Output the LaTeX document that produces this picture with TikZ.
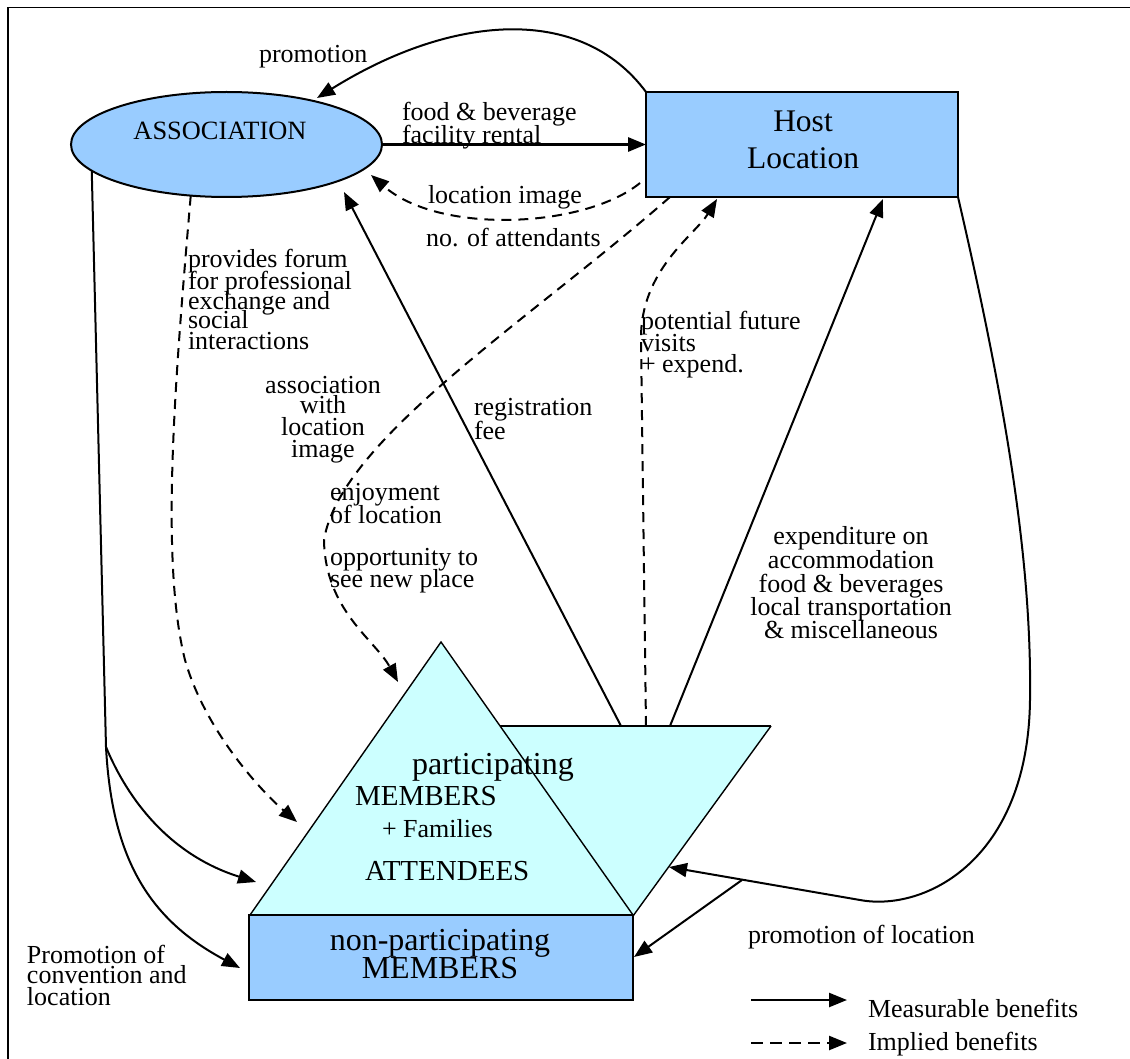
\documentclass[tikz,border=0pt]{standalone}
\usepackage{fontspec}
\setmainfont{Liberation Serif}
\usetikzlibrary{arrows.meta,shapes.geometric,calc}
\definecolor{boxblue}{HTML}{99CCFF}
\definecolor{paleaqua}{HTML}{CCFFFF}
\newcommand{\txtsize}[1]{\fontsize{#1}{#1}\selectfont}
\begin{document}
\begin{tikzpicture}[x=1pt,y=-1pt,
  every node/.style={inner sep=0pt, outer sep=0pt},
  lab/.style={font=\txtsize{26}, anchor=base west},
  labc/.style={font=\txtsize{26}, anchor=base},
  tip/.style={-{Triangle[length=18pt,width=14pt]}},
  measurable/.style={draw, line width=2pt, tip},
  implied/.style={measurable, dash pattern=on 10pt off 7pt},
  shapeline/.style={line width=1.4pt},
  bluebox/.style={draw, line width=2.2pt, fill=boxblue},
]
\useasboundingbox (0,0) rectangle (1130,1059);
% outer frame
\draw[line width=1.6pt] (8,7.5) rectangle (1150,1080);

% main actors
\node[ellipse, draw, line width=2pt, fill=boxblue, minimum width=311pt, minimum height=105pt] (assoc) at (226.5,144.5) {};
\node[bluebox, minimum width=312pt, minimum height=105pt] (host) at (802,144.5) {};

% attendees: inverted triangle behind the upright one
\coordinate (inL) at (499,726);
\coordinate (inR) at (771,726);
\coordinate (inB) at (633,916);
\fill[paleaqua] (inL) -- (inR) -- (inB) -- cycle;
\draw[line width=2.2pt] (inL) -- (inR);
\draw[shapeline] (inR) -- (inB);
\coordinate (apex) at (441,642);
\coordinate (baseL) at (250,915);
\coordinate (baseR) at (633,915);
\filldraw[fill=paleaqua, shapeline] (apex) -- (baseR) -- (baseL) -- cycle;

% non-participating members
\node[bluebox, minimum width=384pt, minimum height=85pt] (nonpart) at (441,957.5) {};
\draw[line width=2.8pt] (nonpart.north west) -- (nonpart.north east);

% connector end points
\coordinate (topReg) at (621,726);
\coordinate (topPot) at (646,726);
\coordinate (topExp) at (670,726);
\coordinate (regTip) at (344,192);
\coordinate (promTip) at (317,98);
\coordinate (imgTip) at (371,175);
\coordinate (potTip) at (717,199);
\coordinate (expTip) at (883,199);
\coordinate (attTip) at (398,682);
\coordinate (forumTip) at (297,822);
\coordinate (triTip) at (256,882);
\coordinate (npTip) at (240,968);
\coordinate (invTip) at (669,867);
\coordinate (npRightTip) at (634,957);
\coordinate (fork) at (106,747);
\coordinate (locFork) at (742,880);

% flows between host and association
\draw[measurable] (host.north west) .. controls (580,3) and (450,15) .. (promTip);
\draw[measurable, line width=3pt] (assoc.east) -- (host.west);
\draw[implied] ($(host.south west)+(-6,-14)$) .. controls (585,228) and (440,235) .. (imgTip);

% flows from the host location
\draw[implied] ($(host.south west)+(24,0)$) .. controls (530,320) and (340,440) .. (324,540)
   .. controls (325,610) and (375,640) .. (attTip);
\draw[measurable] (host.south east) .. controls (1005,400) and (1032,560) .. (1030,700)
   .. controls (1028,860) and (925,912) .. (860,900) -- (invTip);
\draw[measurable] (locFork) -- (npRightTip);

% flows from the attendees
\draw[implied] (topPot) -- (641,340) .. controls (640,270) and (695,235) .. (potTip);
\draw[measurable] (topReg) -- (regTip);
\draw[measurable] (topExp) -- (expTip);

% flows from the association
\draw[measurable] (assoc.191) -- (fork) .. controls (112,860) and (150,920) .. (npTip);
\draw[measurable] (fork) .. controls (128,800) and (170,855) .. (triTip);
\draw[implied] (assoc.235) .. controls (175,380) and (160,560) .. (185,660)
   .. controls (205,730) and (260,790) .. (forumTip);

% legend
\coordinate (lgA1) at (751,1000);
\coordinate (lgB1) at (847,1000);
\coordinate (lgA2) at (751,1043);
\coordinate (lgB2) at (847,1043);
\draw[measurable, line width=2.4pt] (lgA1) -- (lgB1);
\draw[implied, line width=2.4pt, dash pattern=on 12pt off 7pt] (lgA2) -- (lgB2);
\node[lab] (lgt1) at (868,1017) {Measurable benefits};
\node[lab] (lgt2) at (868,1050) {Implied benefits};

% labels inside the shapes
\node[labc, font=\txtsize{26.4}] (assoctxt) at (220,140) {ASSOCIATION};
\node[labc, font=\txtsize{31.5}] (hosttxt1) at (803,132) {Host};
\node[labc, font=\txtsize{31.5}] (hosttxt2) at (803,169) {Location};
\node[lab, font=\txtsize{32}] (att1) at (412,774) {participating};
\node[lab, font=\txtsize{29}] (att2) at (355,805) {MEMBERS};
\node[lab, font=\txtsize{26}] (att3) at (382,837) {+ Families};
\node[lab, font=\txtsize{29}] (att4) at (365,880) {ATTENDEES};
\node[labc, font=\txtsize{32}] (np1) at (440,950) {non-participating};
\node[labc, font=\txtsize{32}] (np2) at (440,978) {MEMBERS};

% connector labels
\node[lab] (t1) at (259,63) {promotion};
\node[lab] (t2) at (402,121) {food \& beverage};
\node[lab] (t3) at (402,144) {facility rental};
\node[lab] (t4) at (428,204) {location image};
\node[lab] (t5) at (426,247) {no. of attendants};
\node[lab] (t6a) at (188,268) {provides forum};
\node[lab] (t6b) at (188,290) {for professional};
\node[lab] (t6c) at (188,310) {exchange and};
\node[lab] (t6d) at (188,329) {social};
\node[lab] (t6e) at (188,349) {interactions};
\node[lab] (t7a) at (641,330) {potential future};
\node[lab] (t7b) at (641,352) {visits};
\node[lab] (t7c) at (641,372) {+ expend.};
\node[labc] (t8a) at (323,393) {association};
\node[labc] (t8b) at (323,413) {with};
\node[labc] (t8c) at (323,435) {location};
\node[labc] (t8d) at (323,457) {image};
\node[lab] (t9a) at (474,415) {registration};
\node[lab] (t9b) at (474,439) {fee};
\node[lab] (t10a) at (330,500) {enjoyment};
\node[lab] (t10b) at (330,523) {of location};
\node[lab] (t11a) at (330,565) {opportunity to};
\node[lab] (t11b) at (330,587) {see new place};
\node[labc] (t12a) at (851,544) {expenditure on};
\node[labc] (t12b) at (851,568) {accommodation};
\node[labc] (t12c) at (851,592) {food \& beverages};
\node[labc] (t12d) at (851,615) {local transportation};
\node[labc] (t12e) at (851,638) {\& miscellaneous};
\node[lab] (t13a) at (27,963) {Promotion of};
\node[lab] (t13b) at (27,983) {convention and};
\node[lab] (t13c) at (27,1005) {location};
\node[lab] (t14) at (748,943) {promotion of location};
\end{tikzpicture}
\end{document}
